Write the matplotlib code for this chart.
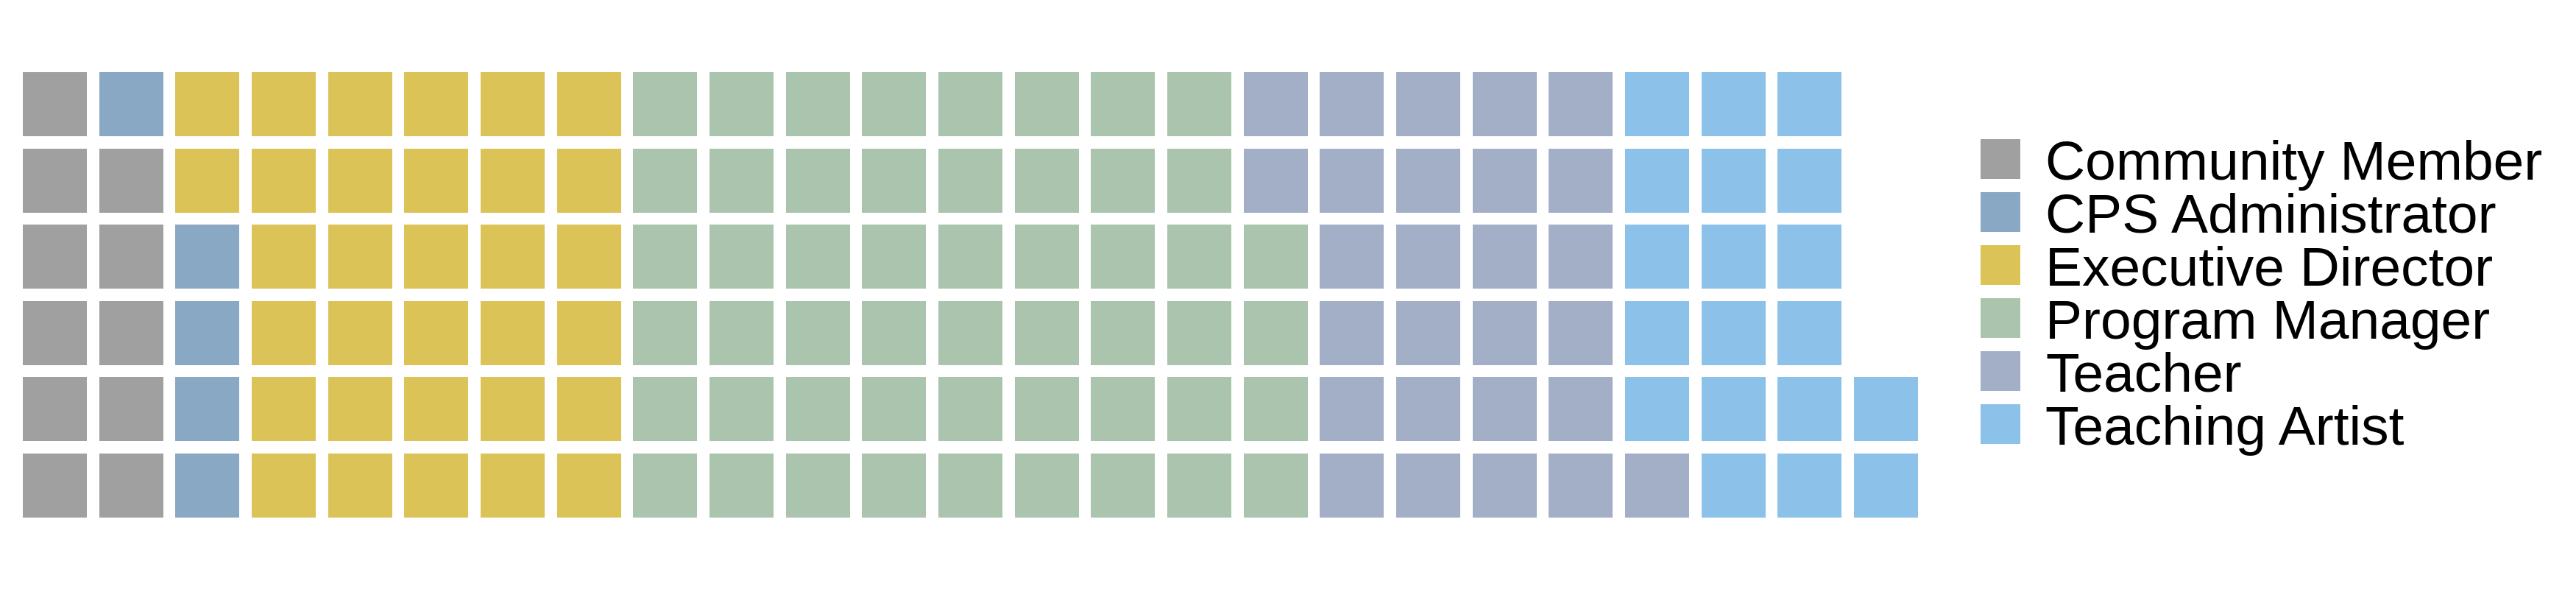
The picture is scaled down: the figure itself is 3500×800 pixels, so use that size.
import numpy as np
import matplotlib
matplotlib.use("Agg")
import matplotlib.pyplot as plt
from matplotlib.patches import Rectangle

# roles and how many respondents in each (one tile per person)
roles = ["Community Member", "CPS Administrator", "Executive Director",
         "Program Manager", "Teacher", "Teaching Artist"]
counts = [11, 5, 32, 52, 27, 19]
colors = ["#A0A0A0", "#89A8C4", "#DBC358", "#ABC4AE", "#A3AEC7", "#8CC2E9"]

n_rows = 6
tile = 0.84  # tile size relative to the grid pitch

fig = plt.figure(figsize=(35, 8), dpi=100)
ax = fig.add_axes([0.00649, 0.1109, 0.74049, 0.777])

# waffle is filled column by column, from the bottom up
start = 0
for role, n, c in zip(roles, counts, colors):
    idx = np.arange(start, start + n)
    cols = idx // n_rows
    rows = idx % n_rows
    ax.bar(cols, tile, width=tile, bottom=rows - tile / 2, color=c,
           linewidth=0, label=role)
    start += n

ax.set_xlim(-0.5, 24.5)
ax.set_ylim(-0.5, 5.5)
ax.axis("off")

# legend drawn by hand in pixel coordinates (entries sit very tight)
lax = fig.add_axes([0, 0, 1, 1])
lax.set_xlim(0, 3500)
lax.set_ylim(800, 0)
lax.axis("off")
for i, (role, c) in enumerate(zip(roles, colors)):
    y = 189 + 72 * i
    lax.add_patch(Rectangle((2691, y), 54, 54, facecolor=c, linewidth=0))
    lax.text(2779, y + 55, role, fontsize=54, family="Liberation Sans",
             va="baseline", ha="left", color="black")

fig.savefig("out.png", dpi=100)
